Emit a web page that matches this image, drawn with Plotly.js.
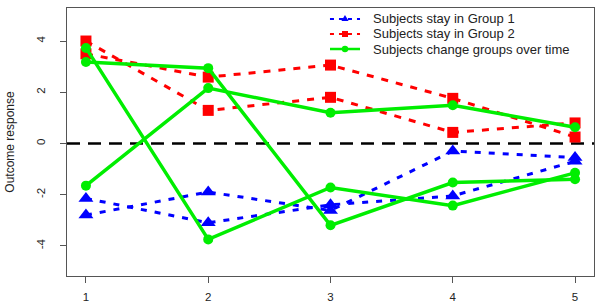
<!DOCTYPE html>
<html>
<head>
<meta charset="utf-8">
<script src="https://cdn.plot.ly/plotly-3.0.1.min.js"></script>
<style>
  html, body { margin: 0; padding: 0; background: #fff; }
  #chart { width: 602px; height: 308px; }
</style>
</head>
<body>
<div id="chart"></div>
<script>
// Measurement occasions
const timePoints = [1, 2, 3, 4, 5];

// Subjects who stay in Group 1
const stayGroup1A = [-2.15, -3.1, -2.4, -2.05, -0.7];
const stayGroup1B = [-2.8, -1.9, -2.62, -0.3, -0.55];

// Subjects who stay in Group 2
const stayGroup2A = [4.0, 1.29, 1.8, 0.43, 0.8];
const stayGroup2B = [3.5, 2.59, 3.06, 1.76, 0.25];

// Subjects who change groups over time
const switchA = [3.73, -3.75, -1.72, -2.43, -1.15];
const switchB = [3.18, 2.94, -3.2, -1.53, -1.4];
const switchC = [-1.65, 2.16, 1.2, 1.49, 0.63];

const xTicks = [1, 2, 3, 4, 5];
const yTicks = [-4, -2, 0, 2, 4];

const legendLabels = [
  'Subjects stay in Group 1',
  'Subjects stay in Group 2',
  'Subjects change groups over time'
];

const BLUE = '#0000ff';
const RED = '#ff0000';
const GREEN = '#00ee00';

function subjectTrace(values, color, dash, symbol, size, width) {
  return {
    x: timePoints,
    y: values,
    type: 'scatter',
    mode: 'lines+markers',
    showlegend: false,
    hoverinfo: 'skip',
    line: { color: color, width: width, dash: dash },
    marker: { color: color, symbol: symbol, size: size, line: { width: 0 } }
  };
}

const traces = [
  subjectTrace(stayGroup1A, BLUE, '6px,8px', 'triangle-up', 13, 3),
  subjectTrace(stayGroup1B, BLUE, '6px,8px', 'triangle-up', 13, 3),
  subjectTrace(stayGroup2A, RED, '7px,8px', 'square', 11, 3),
  subjectTrace(stayGroup2B, RED, '7px,8px', 'square', 11, 3),
  subjectTrace(switchA, GREEN, 'solid', 'circle', 10, 3.5),
  subjectTrace(switchB, GREEN, 'solid', 'circle', 10, 3.5),
  subjectTrace(switchC, GREEN, 'solid', 'circle', 10, 3.5)
];

// Hand-built key in the upper right of the panel
const keyRows = [0.959, 0.903, 0.847];
const keyX0 = 0.499, keyX1 = 0.556, keyMid = 0.5275, keyText = 0.579;
const keyColors = [BLUE, RED, GREEN];
const keyDash = ['4px,5px', '4px,5px', 'solid'];

const shapes = [
  // reference line at zero
  {
    type: 'line', xref: 'paper', x0: 0, x1: 1, yref: 'y', y0: 0, y1: 0,
    line: { color: '#000', width: 2.5, dash: '13px,8px' }, layer: 'below'
  }
];
const annotations = [];

keyRows.forEach(function (yy, i) {
  shapes.push({
    type: 'line', xref: 'paper', yref: 'paper',
    x0: keyX0, x1: keyX1, y0: yy, y1: yy,
    line: { color: keyColors[i], width: i === 2 ? 2.5 : 2, dash: keyDash[i] }
  });
  annotations.push({
    xref: 'paper', yref: 'paper', x: keyText, y: yy,
    xanchor: 'left', yanchor: 'middle', showarrow: false, borderpad: 0,
    text: legendLabels[i],
    font: { family: 'Liberation Sans, Arial, sans-serif', size: 13, color: '#222' }
  });
});
// key symbols
shapes.push({
  type: 'path', xref: 'paper', yref: 'paper', xsizemode: 'pixel', ysizemode: 'pixel',
  xanchor: keyMid, yanchor: keyRows[0],
  path: 'M-3.6,-2 L3.6,-2 L0,4 Z', fillcolor: BLUE, line: { width: 0 }
});
shapes.push({
  type: 'rect', xref: 'paper', yref: 'paper', xsizemode: 'pixel', ysizemode: 'pixel',
  xanchor: keyMid, yanchor: keyRows[1], x0: -3, x1: 3, y0: -3, y1: 3,
  fillcolor: RED, line: { width: 0 }
});
shapes.push({
  type: 'circle', xref: 'paper', yref: 'paper', xsizemode: 'pixel', ysizemode: 'pixel',
  xanchor: keyMid, yanchor: keyRows[2], x0: -3.2, x1: 3.2, y0: -3.2, y1: 3.2,
  fillcolor: GREEN, line: { width: 0 }
});

const tickFont = { family: 'Liberation Sans, Arial, sans-serif', size: 11.5, color: '#222' };

const layout = {
  width: 602,
  height: 308,
  margin: { l: 67, r: 8, t: 8, b: 32, pad: 0 },
  paper_bgcolor: '#fff',
  plot_bgcolor: '#fff',
  showlegend: false,
  xaxis: {
    range: [0.845, 5.155],
    tickmode: 'array',
    tickvals: xTicks,
    ticktext: xTicks.map(String),
    ticks: 'outside', ticklen: 6, tickwidth: 1, tickcolor: '#555',
    showline: true, linecolor: '#555', linewidth: 1.3, mirror: true,
    showgrid: false, zeroline: false,
    tickfont: tickFont,
    ticklabelstandoff: 4
  },
  yaxis: {
    range: [-5.18, 5.29],
    tickmode: 'array',
    tickvals: yTicks,
    ticktext: yTicks.map(String),
    tickangle: -90,
    ticks: 'outside', ticklen: 6, tickwidth: 1, tickcolor: '#555',
    showline: true, linecolor: '#555', linewidth: 1.3, mirror: true,
    showgrid: false, zeroline: false,
    tickfont: tickFont,
    ticklabelstandoff: 10,
    title: {
      text: 'Outcome response',
      font: { family: 'Liberation Sans, Arial, sans-serif', size: 12, color: '#222' },
      standoff: 18
    },
    automargin: false
  },
  shapes: shapes,
  annotations: annotations
};

Plotly.newPlot('chart', traces, layout, { staticPlot: true, displayModeBar: false });
</script>
</body>
</html>
